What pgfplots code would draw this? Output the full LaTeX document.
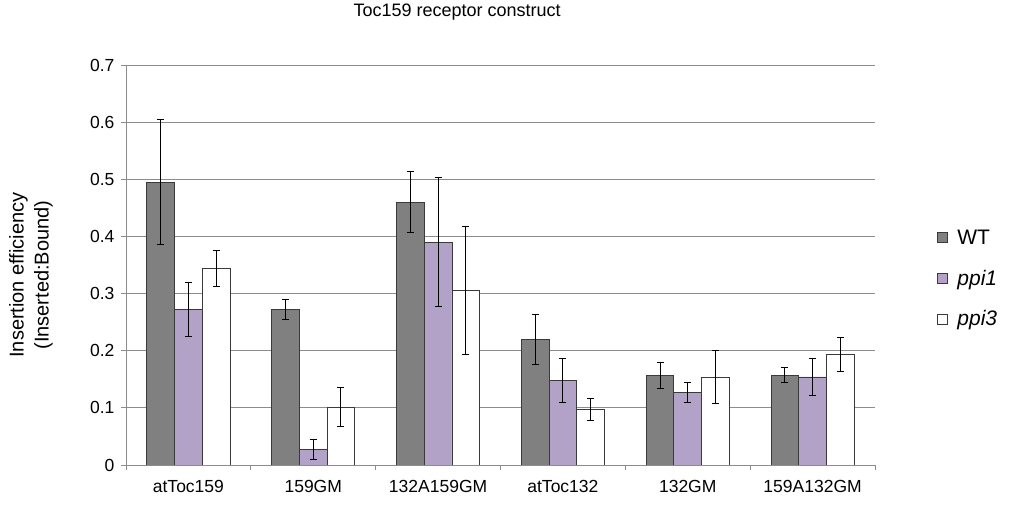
\documentclass[border=0pt]{standalone}
\usepackage{pgfplots}
\usepackage{pgfplotstable}
\pgfplotsset{compat=1.18}
\usepackage{fontspec}
\setmainfont{Liberation Sans}

\definecolor{wtgray}{HTML}{808080}
\definecolor{ppione}{HTML}{B3A2C7}
\definecolor{gridgray}{HTML}{8C8C8C}
\definecolor{edge}{HTML}{3A3A3A}

% mean insertion efficiency and error (one row per construct)
\pgfplotstableread{
x  wt     wte     pa     pae    pb     pbe
0  0.495  0.110   0.272  0.048  0.344  0.032
1  0.272  0.017   0.027  0.018  0.101  0.034
2  0.460  0.054   0.390  0.113  0.306  0.112
3  0.219  0.044   0.148  0.038  0.097  0.020
4  0.157  0.023   0.127  0.017  0.154  0.047
5  0.157  0.0135  0.154  0.033  0.193  0.030
}\datatable

\begin{document}
\begin{tikzpicture}
\useasboundingbox (0,0) rectangle (1013pt,506pt);
\begin{axis}[
  at={(126pt,41pt)}, anchor=south west,
  scale only axis, width=749pt, height=400pt,
  ybar=0pt, bar width=27.7pt,
  xmin=-0.5, xmax=5.5, ymin=0, ymax=0.7,
  axis lines*=left,
  axis line style={gridgray, line width=0.9pt},
  tick style={gridgray, line width=0.9pt},
  tick align=outside, major tick length=5pt,
  ytick={0,0.1,0.2,0.3,0.4,0.5,0.6,0.7},
  ymajorgrids, grid style={gridgray, line width=0.9pt},
  xtick={-0.5,0.5,1.5,2.5,3.5,4.5,5.5},
  x tick label as interval,
  xticklabels={atToc159,159GM,132A159GM,atToc132,132GM,159A132GM},
  ticklabel style={font=\fontsize{17.5}{21}\selectfont, black},
  xticklabel style={yshift=-7pt},
  yticklabel style={xshift=-3pt, /pgf/number format/fixed, /pgf/number format/precision=1},
  /pgf/number format/assume math mode=true,
  title={Toc159 receptor construct},
  title style={font=\fontsize{18}{22}\selectfont, at={(axis description cs:0.442,1.118)}, anchor=center},
  ylabel={Insertion efficiency\\(Inserted:Bound)},
  ylabel style={font=\fontsize{20}{25}\selectfont, align=center, at={(axis description cs:-0.127,0.475)}, anchor=center},
  legend style={at={(axis description cs:1.082,0.466)}, anchor=west, draw=none, fill=none,
    font=\fontsize{21}{25}\selectfont, row sep=24pt, inner sep=0pt,
    nodes={inner sep=0pt},
    /tikz/every odd column/.append style={column sep=10pt}},
  legend cell align=left,
  legend image code/.code={\draw[#1, draw=edge, line width=0.8pt] (0pt,-5pt) rectangle (10pt,5pt);},
  every axis plot/.append style={draw=edge, line width=0.8pt},
  error bars/y dir=both, error bars/y explicit,
  error bars/error bar style={black, line width=1pt},
  error bars/error mark options={rotate=90, black, mark size=3.5pt, line width=1pt},
]
\addplot[fill=wtgray] table[x=x, y=wt, y error=wte] {\datatable};
\addplot[fill=ppione] table[x=x, y=pa, y error=pae] {\datatable};
\addplot[fill=white] table[x=x, y=pb, y error=pbe] {\datatable};
\legend{WT, \textit{ppi1}, \textit{ppi3}}
\end{axis}
\end{tikzpicture}
\end{document}
